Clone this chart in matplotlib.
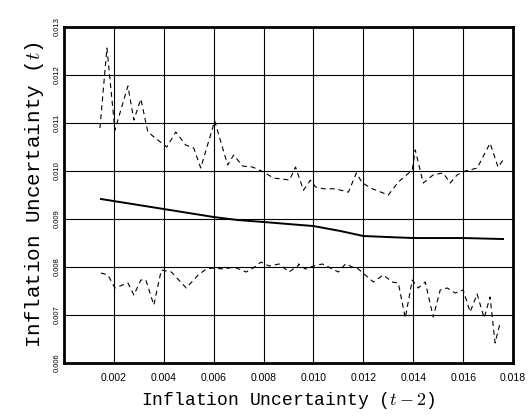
import matplotlib
matplotlib.use("Agg")
import matplotlib.pyplot as plt

plt.rcParams['mathtext.fontset'] = 'cm'

# Upper confidence band
upper_x = [0.00144, 0.00172, 0.00204, 0.00256, 0.0028, 0.00308, 0.00336, 0.00376, 0.00412,
           0.00448, 0.00488, 0.0052, 0.00548, 0.00604, 0.00656, 0.0068, 0.00716, 0.00756,
           0.0080, 0.0084, 0.00904, 0.00928, 0.0096, 0.00988, 0.01008, 0.0104, 0.01088,
           0.0114, 0.01172, 0.01196, 0.01236, 0.0130, 0.0134, 0.01396, 0.01408, 0.0144,
           0.0148, 0.0152, 0.01548, 0.01576, 0.01608, 0.01656, 0.01708, 0.0174, 0.0176]
upper_y = [0.010896, 0.012563, 0.010854, 0.011771, 0.011063, 0.0115, 0.010813, 0.010646,
           0.0105, 0.010813, 0.010542, 0.010479, 0.010063, 0.011042, 0.010125, 0.010333,
           0.010104, 0.010083, 0.009979, 0.009854, 0.009813, 0.010083, 0.0096, 0.00981,
           0.00967, 0.00963, 0.00963, 0.00956, 0.00996, 0.00975, 0.00963, 0.0095, 0.00977,
           0.01002, 0.01044, 0.00975, 0.00992, 0.00996, 0.00975, 0.00992, 0.0100, 0.01006,
           0.01058, 0.01008, 0.01023]

# Lower confidence band
lower_x = [0.00148, 0.00176, 0.00204, 0.00256, 0.0028, 0.00308, 0.00328, 0.0036, 0.0039,
           0.0043, 0.0049, 0.00538, 0.0057, 0.00602, 0.00642, 0.00682, 0.0073, 0.00758,
           0.0079, 0.00822, 0.00862, 0.00902, 0.00942, 0.0094, 0.00968, 0.01, 0.01036,
           0.01076, 0.011, 0.01128, 0.01156, 0.0118, 0.0124, 0.0128, 0.01316, 0.0134,
           0.01368, 0.01396, 0.0142, 0.01448, 0.0148, 0.01508, 0.01536, 0.01568, 0.016,
           0.01628, 0.01656, 0.01684, 0.01708, 0.01728, 0.01748]
lower_y = [0.007875, 0.007833, 0.007563, 0.007667, 0.007417, 0.007729, 0.007729, 0.007208,
           0.007938, 0.007896, 0.007563, 0.007833, 0.007958, 0.007979, 0.007958, 0.008,
           0.007896, 0.007979, 0.008104, 0.008021, 0.008063, 0.007896, 0.008042, 0.008063,
           0.007958, 0.008021, 0.008063, 0.007958, 0.007896, 0.008063, 0.008, 0.007958,
           0.007688, 0.007833, 0.007688, 0.007667, 0.006938, 0.007729, 0.007563, 0.007688,
           0.006958, 0.007521, 0.007563, 0.007458, 0.007521, 0.007063, 0.007438, 0.006938,
           0.007375, 0.006417, 0.006833]
lower_x = lower_x[:len(lower_y)]

# Point estimate
mid_x = [0.00148, 0.0040, 0.0060, 0.00696, 0.0080, 0.00948, 0.0100, 0.01108, 0.0120,
         0.01296, 0.0140, 0.0160, 0.0176]
mid_y = [0.009417, 0.009208, 0.009042, 0.008979, 0.008938, 0.008875, 0.008854, 0.00875,
         0.008646, 0.008625, 0.008604, 0.008604, 0.008583]

xticks = [0.002, 0.004, 0.006, 0.008, 0.010, 0.012, 0.014, 0.016, 0.018]
yticks = [0.006, 0.007, 0.008, 0.009, 0.010, 0.011, 0.012, 0.013]

fig = plt.figure(figsize=(5.3, 4.16), dpi=100)
ax = fig.add_axes([0.1208, 0.1274, 0.8472, 0.8076])

ax.plot(upper_x, upper_y, color='black', lw=0.8, linestyle=(0, (4.5, 3.5)))
ax.plot(lower_x, lower_y, color='black', lw=0.8, linestyle=(0, (4.5, 3.5)))
ax.plot(mid_x, mid_y, color='black', lw=1.4)

ax.set_xlim(0.0, 0.018)
ax.set_ylim(0.006, 0.013)
ax.set_xticks(xticks)
ax.set_yticks(yticks)
ax.set_xticklabels([f"{v:.3f}" for v in xticks], fontsize=7.5, family='Liberation Sans')
ax.set_yticklabels([f"{v:.3f}" for v in yticks], fontsize=5.5, family='Liberation Sans',
                   rotation=90, va='center')
ax.tick_params(axis='both', length=0)
ax.tick_params(axis='x', pad=7)
ax.tick_params(axis='y', pad=2)
ax.grid(True, color='black', lw=0.8)
for s in ax.spines.values():
    s.set_linewidth(2.0)

ax.set_xlabel("Inflation Uncertainty ($t-2$)", fontsize=13, family='Liberation Mono', labelpad=5)
ax.set_ylabel("Inflation Uncertainty ($t$)", fontsize=15, family='Liberation Mono', labelpad=6)

fig.savefig("out.png", dpi=100)
